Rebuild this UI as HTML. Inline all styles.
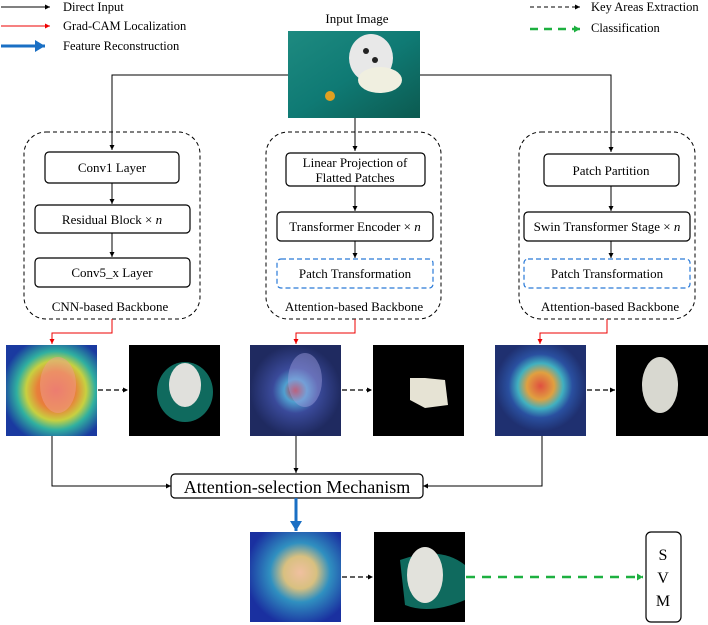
<!DOCTYPE html>
<html><head><meta charset="utf-8"><style>
html,body{margin:0;padding:0;background:#fff;}
svg{display:block;font-family:"Liberation Serif",serif;}
</style></head><body>
<svg width="708" height="625" viewBox="0 0 708 625" xmlns="http://www.w3.org/2000/svg">
<defs>
<marker id="ab" markerWidth="6" markerHeight="6" refX="5" refY="3" orient="auto" markerUnits="userSpaceOnUse"><path d="M0,0.5 L5,3 L0,5.5z" fill="#000"/></marker>
<marker id="ar" markerWidth="6" markerHeight="6" refX="5" refY="3" orient="auto" markerUnits="userSpaceOnUse"><path d="M0,0.5 L5,3 L0,5.5z" fill="#e00"/></marker>
<marker id="ag" markerWidth="8" markerHeight="8" refX="6" refY="4" orient="auto" markerUnits="userSpaceOnUse"><path d="M0,0.5 L6,4 L0,7.5z" fill="#1db040"/></marker>
<marker id="abl" markerWidth="12" markerHeight="12" refX="10" refY="6" orient="auto" markerUnits="userSpaceOnUse"><path d="M0,0 L10,6 L0,12z" fill="#1a6fc4"/></marker>
<radialGradient id="hm1" cx="0.55" cy="0.5" r="0.6"><stop offset="0" stop-color="#e85a50"/><stop offset="0.35" stop-color="#e8803a"/><stop offset="0.55" stop-color="#c8d040"/><stop offset="0.72" stop-color="#30b0a0"/><stop offset="1" stop-color="#1a3aa0"/></radialGradient>
<radialGradient id="hm2" cx="0.5" cy="0.5" r="0.5"><stop offset="0" stop-color="#d03030"/><stop offset="0.25" stop-color="#50a0d0"/><stop offset="0.5" stop-color="#3a4a9a"/><stop offset="1" stop-color="#1f2a60"/></radialGradient>
<radialGradient id="hm3" cx="0.5" cy="0.45" r="0.5"><stop offset="0" stop-color="#e05040"/><stop offset="0.3" stop-color="#e0a040"/><stop offset="0.5" stop-color="#40b0c0"/><stop offset="0.7" stop-color="#2a50a0"/><stop offset="1" stop-color="#1f3070"/></radialGradient>
<radialGradient id="hm4" cx="0.55" cy="0.45" r="0.6"><stop offset="0" stop-color="#f0c0a0"/><stop offset="0.3" stop-color="#d8c080"/><stop offset="0.55" stop-color="#3090c0"/><stop offset="1" stop-color="#1a30a0"/></radialGradient>
<linearGradient id="bg" x1="0" y1="0" x2="1" y2="1"><stop offset="0" stop-color="#1e8a80"/><stop offset="0.5" stop-color="#0f7a74"/><stop offset="1" stop-color="#0c5a50"/></linearGradient>
</defs>

<g font-size="12.5" fill="#000">
<line x1="1" y1="7" x2="50" y2="7" stroke="#000" stroke-width="1" marker-end="url(#ab)"/>
<text x="63" y="11">Direct Input</text>
<line x1="1" y1="26" x2="50" y2="26" stroke="#e00" stroke-width="1" marker-end="url(#ar)"/>
<text x="63" y="30">Grad-CAM Localization</text>
<line x1="1" y1="46" x2="45" y2="46" stroke="#1a6fc4" stroke-width="3" marker-end="url(#abl)"/>
<text x="63" y="50">Feature Reconstruction</text>
<line x1="530" y1="7" x2="580" y2="7" stroke="#000" stroke-width="1" stroke-dasharray="4,3" marker-end="url(#ab)"/>
<text x="591" y="11">Key Areas Extraction</text>
<line x1="530" y1="29" x2="580" y2="29" stroke="#1db040" stroke-width="2.5" stroke-dasharray="8,6" marker-end="url(#ag)"/>
<text x="591" y="32">Classification</text>
<text x="357" y="23" text-anchor="middle" font-size="13">Input Image</text>
</g>

<rect x="288" y="31" width="132" height="87" fill="url(#bg)"/>
<ellipse cx="371" cy="58" rx="22" ry="24" fill="#e8e8e8"/>
<ellipse cx="380" cy="80" rx="22" ry="13" fill="#f0efe0"/>
<circle cx="366" cy="51" r="3" fill="#222"/><circle cx="375" cy="60" r="3" fill="#222"/>
<circle cx="330" cy="96" r="5" fill="#e0a020"/>

<g stroke="#000" stroke-width="1" fill="none">
<polyline points="288,75 112,75 112,150" marker-end="url(#ab)"/>
<polyline points="420,75 611,75 611,152" marker-end="url(#ab)"/>
<line x1="355" y1="118" x2="355" y2="151" marker-end="url(#ab)"/>
</g>

<g fill="none" stroke="#000" stroke-width="1" stroke-dasharray="4,3">
<rect x="24" y="132" width="176" height="187" rx="22"/>
<rect x="266" y="132" width="175" height="187" rx="22"/>
<rect x="519" y="132" width="176" height="187" rx="22"/>
</g>

<g fill="#fff" stroke="#000" stroke-width="1.2">
<rect x="45" y="152" width="134" height="31" rx="4"/>
<rect x="35" y="205" width="155" height="28" rx="4"/>
<rect x="35" y="258" width="155" height="29" rx="4"/>
<rect x="286" y="153" width="139" height="33" rx="4"/>
<rect x="277" y="212" width="156" height="29" rx="4"/>
<rect x="544" y="154" width="135" height="32" rx="4"/>
<rect x="524" y="212" width="166" height="29" rx="4"/>
</g>
<g fill="none" stroke="#2a7ad8" stroke-width="1.2" stroke-dasharray="5,3">
<rect x="277" y="259" width="156" height="29" rx="4"/>
<rect x="524" y="259" width="166" height="29" rx="4"/>
</g>
<g stroke="#000" stroke-width="1" marker-end="url(#ab)">
<line x1="112" y1="183" x2="112" y2="204"/>
<line x1="112" y1="233" x2="112" y2="257"/>
<line x1="355" y1="186" x2="355" y2="211"/>
<line x1="355" y1="241" x2="355" y2="258"/>
<line x1="611" y1="186" x2="611" y2="211"/>
<line x1="611" y1="241" x2="611" y2="258"/>
</g>
<g font-size="13" text-anchor="middle" fill="#000">
<text x="112" y="172">Conv1 Layer</text>
<text x="112" y="224">Residual Block × <tspan font-style="italic">n</tspan></text>
<text x="112" y="277">Conv5_x Layer</text>
<text x="355" y="167">Linear Projection of</text>
<text x="355" y="182">Flatted Patches</text>
<text x="355" y="231">Transformer Encoder × <tspan font-style="italic">n</tspan></text>
<text x="355" y="278">Patch Transformation</text>
<text x="611" y="175">Patch Partition</text>
<text x="607" y="231">Swin Transformer Stage × <tspan font-style="italic">n</tspan></text>
<text x="607" y="278">Patch Transformation</text>
<text x="110" y="311">CNN-based Backbone</text>
<text x="354" y="311">Attention-based Backbone</text>
<text x="610" y="311">Attention-based Backbone</text>
</g>

<g stroke="#e00" stroke-width="1" fill="none" marker-end="url(#ar)">
<polyline points="112,319 112,333 52,333 52,344"/>
<polyline points="355,319 355,333 296,333 296,344"/>
<polyline points="607,319 607,333 540,333 540,344"/>
</g>

<rect x="6" y="345" width="91" height="91" fill="url(#hm1)"/>
<ellipse cx="58" cy="385" rx="18" ry="28" fill="#f0a090" opacity="0.5"/>
<rect x="129" y="345" width="91" height="91" fill="#000"/>
<ellipse cx="185" cy="392" rx="28" ry="30" fill="#0f6a5e"/>
<ellipse cx="185" cy="385" rx="16" ry="22" fill="#e0e0dc"/>
<rect x="250" y="345" width="91" height="91" fill="url(#hm2)"/>
<ellipse cx="305" cy="380" rx="17" ry="27" fill="#a0a0e0" opacity="0.45"/>
<rect x="373" y="345" width="91" height="91" fill="#000"/>
<path d="M410 378 L425 378 L445 380 L448 405 L425 408 L410 400z" fill="#e6e3d4"/>
<rect x="495" y="345" width="91" height="91" fill="url(#hm3)"/>
<rect x="616" y="345" width="92" height="91" fill="#000"/>
<ellipse cx="660" cy="385" rx="18" ry="28" fill="#d8d8d0"/>

<g stroke="#000" stroke-width="1.2" stroke-dasharray="5,3" marker-end="url(#ab)">
<line x1="98" y1="390" x2="128" y2="390"/>
<line x1="342" y1="390" x2="372" y2="390"/>
<line x1="587" y1="390" x2="615" y2="390"/>
<line x1="342" y1="577" x2="373" y2="577"/>
</g>

<g stroke="#000" stroke-width="1" fill="none" marker-end="url(#ab)">
<polyline points="52,436 52,486 171,486"/>
<line x1="296" y1="436" x2="296" y2="473"/>
<polyline points="542,436 542,486 423,486"/>
</g>
<rect x="171" y="474" width="252" height="24" rx="4" fill="#fff" stroke="#000" stroke-width="1.2"/>
<text x="297" y="493" text-anchor="middle" font-size="18">Attention-selection Mechanism</text>

<line x1="296" y1="498" x2="296" y2="531" stroke="#1a6fc4" stroke-width="3" marker-end="url(#abl)"/>

<rect x="250" y="532" width="91" height="90" fill="url(#hm4)"/>
<rect x="374" y="532" width="91" height="90" fill="#000"/>
<path d="M400 560 Q440 545 465 565 L465 600 Q430 615 405 605z" fill="#0f6a5e"/>
<ellipse cx="425" cy="575" rx="18" ry="28" fill="#e2e2dc"/>
<line x1="466" y1="577" x2="643" y2="577" stroke="#1db040" stroke-width="2.5" stroke-dasharray="9,7" marker-end="url(#ag)"/>
<rect x="646" y="532" width="35" height="90" rx="5" fill="#fff" stroke="#000" stroke-width="1.2"/>
<g font-size="16" text-anchor="middle"><text x="663" y="560">S</text><text x="663" y="583">V</text><text x="663" y="606">M</text></g>
</svg>
</body></html>
